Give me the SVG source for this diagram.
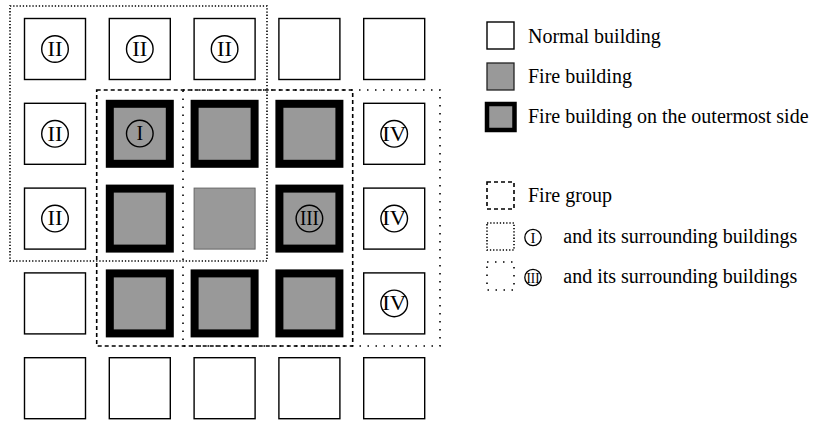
<svg xmlns="http://www.w3.org/2000/svg" width="822" height="421" viewBox="0 0 822 421">
<style>
  text { font-family: "Liberation Serif", "Times New Roman", serif; font-size: 20px; fill: #000; }
  .num { text-anchor: middle; }
  .small { font-size: 15px; text-anchor: middle; }
  .normal { fill: #fff; stroke: #000; stroke-width: 1.4; }
  .fire { fill: #999; stroke: #666; stroke-width: 1; }
  .outer { fill: #999; stroke: #000; stroke-width: 8; }
  .circ { fill: none; stroke: #000; stroke-width: 1.4; }
  .lcirc { fill: none; stroke: #000; stroke-width: 1.3; }
  .dash { fill: none; stroke: #000; stroke-width: 1.6; stroke-dasharray: 4 3; }
  .dotI { fill: none; stroke: #000; stroke-width: 1.6; stroke-dasharray: 1.3 1.9; }
  .dotIII { fill: none; stroke: #000; stroke-width: 1.6; stroke-dasharray: 1.5 6.5; }
</style>
<rect width="822" height="421" fill="#fff"/>

<!-- row 1 -->
<g id="b11"><rect class="normal" x="24.5" y="18.5" width="61" height="61"/><circle class="circ" cx="55" cy="49" r="13.3"/><text class="num" x="55" y="55.8" textLength="15" lengthAdjust="spacingAndGlyphs">II</text></g>
<g id="b12"><rect class="normal" x="109.3" y="18.5" width="61" height="61"/><circle class="circ" cx="139.8" cy="49" r="13.3"/><text class="num" x="139.8" y="55.8" textLength="15" lengthAdjust="spacingAndGlyphs">II</text></g>
<g id="b13"><rect class="normal" x="194.1" y="18.5" width="61" height="61"/><circle class="circ" cx="224.6" cy="49" r="13.3"/><text class="num" x="224.6" y="55.8" textLength="15" lengthAdjust="spacingAndGlyphs">II</text></g>
<g id="b14"><rect class="normal" x="278.9" y="18.5" width="61" height="61"/></g>
<g id="b15"><rect class="normal" x="363.7" y="18.5" width="61" height="61"/></g>

<!-- row 2 -->
<g id="b21"><rect class="normal" x="24.5" y="103.3" width="61" height="61"/><circle class="circ" cx="55" cy="133.8" r="13.3"/><text class="num" x="55" y="140.6" textLength="15" lengthAdjust="spacingAndGlyphs">II</text></g>
<g id="b22"><rect class="outer" x="109.8" y="103.8" width="60" height="60"/><circle class="circ" cx="139.8" cy="133.6" r="13.3"/><text class="num" x="139.8" y="140.4">I</text></g>
<g id="b23"><rect class="outer" x="194.6" y="103.8" width="60" height="60"/></g>
<g id="b24"><rect class="outer" x="279.4" y="103.8" width="60" height="60"/></g>
<g id="b25"><rect class="normal" x="363.7" y="103.3" width="61" height="61"/><circle class="circ" cx="394.2" cy="133.8" r="13.3"/><text class="num" x="394.2" y="140.6" textLength="24" lengthAdjust="spacingAndGlyphs">IV</text></g>

<!-- row 3 -->
<g id="b31"><rect class="normal" x="24.5" y="188.1" width="61" height="61"/><circle class="circ" cx="55" cy="218.6" r="13.3"/><text class="num" x="55" y="225.4" textLength="15" lengthAdjust="spacingAndGlyphs">II</text></g>
<g id="b32"><rect class="outer" x="109.8" y="188.6" width="60" height="60"/></g>
<g id="b33"><rect class="fire" x="194.1" y="188.1" width="61" height="61"/></g>
<g id="b34"><rect class="outer" x="279.4" y="188.6" width="60" height="60"/><circle class="circ" cx="309.4" cy="218.6" r="13.3"/><text class="num" x="309.4" y="225.4" textLength="19" lengthAdjust="spacingAndGlyphs">III</text></g>
<g id="b35"><rect class="normal" x="363.7" y="188.1" width="61" height="61"/><circle class="circ" cx="394.2" cy="218.6" r="13.3"/><text class="num" x="394.2" y="225.4" textLength="24" lengthAdjust="spacingAndGlyphs">IV</text></g>

<!-- row 4 -->
<g id="b41"><rect class="normal" x="24.5" y="272.9" width="61" height="61"/></g>
<g id="b42"><rect class="outer" x="109.8" y="273.4" width="60" height="60"/></g>
<g id="b43"><rect class="outer" x="194.6" y="273.4" width="60" height="60"/></g>
<g id="b44"><rect class="outer" x="279.4" y="273.4" width="60" height="60"/></g>
<g id="b45"><rect class="normal" x="363.7" y="272.9" width="61" height="61"/><circle class="circ" cx="394.2" cy="303.4" r="13.3"/><text class="num" x="394.2" y="310.2" textLength="24" lengthAdjust="spacingAndGlyphs">IV</text></g>

<!-- row 5 -->
<g id="b51"><rect class="normal" x="24.5" y="357.7" width="61" height="61"/></g>
<g id="b52"><rect class="normal" x="109.3" y="357.7" width="61" height="61"/></g>
<g id="b53"><rect class="normal" x="194.1" y="357.7" width="61" height="61"/></g>
<g id="b54"><rect class="normal" x="278.9" y="357.7" width="61" height="61"/></g>
<g id="b55"><rect class="normal" x="363.7" y="357.7" width="61" height="61"/></g>

<!-- groupings -->
<g id="groups">
  <rect class="dotI" x="10" y="6" width="257" height="255"/>
  <rect class="dash" x="96.7" y="90" width="256" height="256"/>
  <rect class="dotIII" x="183" y="90" width="257" height="256"/>
</g>

<!-- legend -->
<g id="legend">
  <rect class="normal" x="487" y="22" width="27" height="27"/>
  <text x="528" y="42.7">Normal building</text>
  <rect x="487" y="63" width="27" height="27" fill="#999" stroke="#222" stroke-width="1.3"/>
  <text x="528" y="82.7">Fire building</text>
  <rect x="487" y="104" width="27.5" height="26" fill="#999" stroke="#000" stroke-width="4.5"/>
  <text x="528" y="122.7">Fire building on the outermost side</text>
  <rect class="dash" x="487" y="182" width="27" height="27"/>
  <text x="528" y="201.7">Fire group</text>
  <rect class="dotI" x="487" y="223" width="27" height="27"/>
  <circle class="lcirc" cx="533" cy="237.5" r="8.2"/>
  <text class="small" x="533" y="242.6">I</text>
  <text x="563.3" y="242.7">and its surrounding buildings</text>
  <rect class="dotIII" x="487" y="262" width="27" height="28"/>
  <circle class="lcirc" cx="533" cy="277.5" r="8.2"/>
  <text class="small" x="533" y="282.6" textLength="13" lengthAdjust="spacingAndGlyphs">III</text>
  <text x="563.3" y="283.3">and its surrounding buildings</text>
</g>
</svg>
